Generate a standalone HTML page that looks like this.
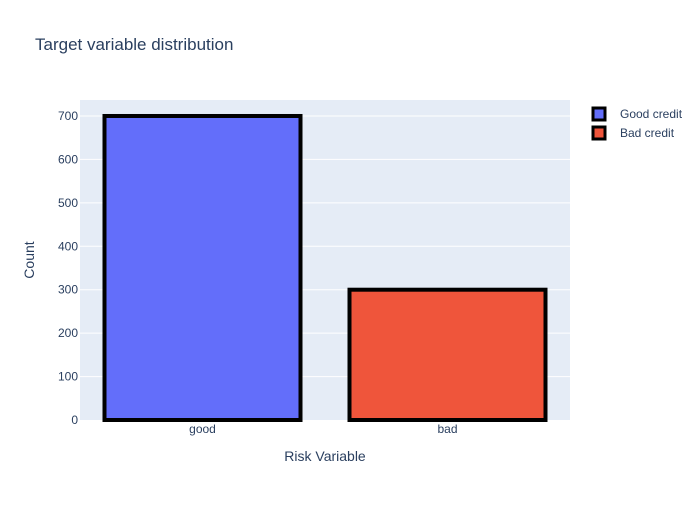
<!DOCTYPE html>
<html><head><meta charset="utf-8">
<style>
body{margin:0;background:#fff;}
svg{font-family:"Liberation Sans",Arial,sans-serif;}
</style></head>
<body>
<svg id="chart" width="700" height="500">
  <rect x="0" y="0" width="700" height="500" fill="#fff"/>
  <text x="35" y="50" font-size="17" fill="#2a3f5f">Target variable distribution</text>
  <rect x="80" y="100" width="490" height="320" fill="#e5ecf6"/>
  <g id="grid"></g>
  <g id="bars"></g>
  <g id="yticks"></g>
  <g id="xticks"></g>
  <text x="325" y="461" font-size="14" fill="#2a3f5f" text-anchor="middle">Risk Variable</text>
  <text x="34" y="260" font-size="14" fill="#2a3f5f" text-anchor="middle" transform="rotate(-90 34 260)">Count</text>
  <g id="legend"></g>
</svg>
<script>
const categories = ["good", "bad"];
const counts = [700, 300];
const seriesNames = ["Good credit", "Bad credit"];
const colors = ["#636efa", "#ef553b"];
const yTicks = [0, 100, 200, 300, 400, 500, 600, 700];

const NS = "http://www.w3.org/2000/svg";
const plot = {x: 80, y: 100, w: 490, h: 320};
const yMax = Math.max(...counts) * 1.0526;
const yScale = v => plot.y + plot.h - v / yMax * plot.h;
const band = plot.w / categories.length;
const xCenter = i => plot.x + band * (i + 0.5);
function mk(tag, attrs, parent) {
  const e = document.createElementNS(NS, tag);
  for (const k in attrs) e.setAttribute(k, attrs[k]);
  parent.appendChild(e);
  return e;
}
const grid = document.getElementById('grid');
const yt = document.getElementById('yticks');
yTicks.forEach(t => {
  const y = yScale(t);
  if (t > 0) {
    const l = mk('line', {x1: plot.x, x2: plot.x + plot.w, y1: y, y2: y, stroke: '#fff', 'stroke-width': 1}, grid);
    
    
  }
  const tx = mk('text', {x: plot.x - 2, y: y + 4, 'font-size': 12, fill: '#2a3f5f', 'text-anchor': 'end'}, yt);
  tx.textContent = t;
  
  
});
const bars = document.getElementById('bars');
const xt = document.getElementById('xticks');
categories.forEach((c, i) => {
  const bw = band * 0.8;
  const y = yScale(counts[i]);
  const r = mk('rect', {x: xCenter(i) - bw / 2, y: y, width: bw, height: yScale(0) - y, fill: colors[i], stroke: '#000', 'stroke-width': 4}, bars);
  
  
  const tx = mk('text', {x: xCenter(i), y: plot.y + plot.h + 13, 'font-size': 12, fill: '#2a3f5f', 'text-anchor': 'middle'}, xt);
  tx.textContent = c;
  
  
});
const lg = document.getElementById('legend');
seriesNames.forEach((n, i) => {
  const y = 114 + i * 19;
  const g = mk('g', {}, lg);
  
  
  mk('rect', {x: 593, y: y - 6, width: 12, height: 12, fill: colors[i], stroke: '#000', 'stroke-width': 3}, g);
  const t = mk('text', {x: 620, y: y + 4, 'font-size': 12, fill: '#2a3f5f'}, g);
  t.textContent = n;
});
</script>
</body></html>
